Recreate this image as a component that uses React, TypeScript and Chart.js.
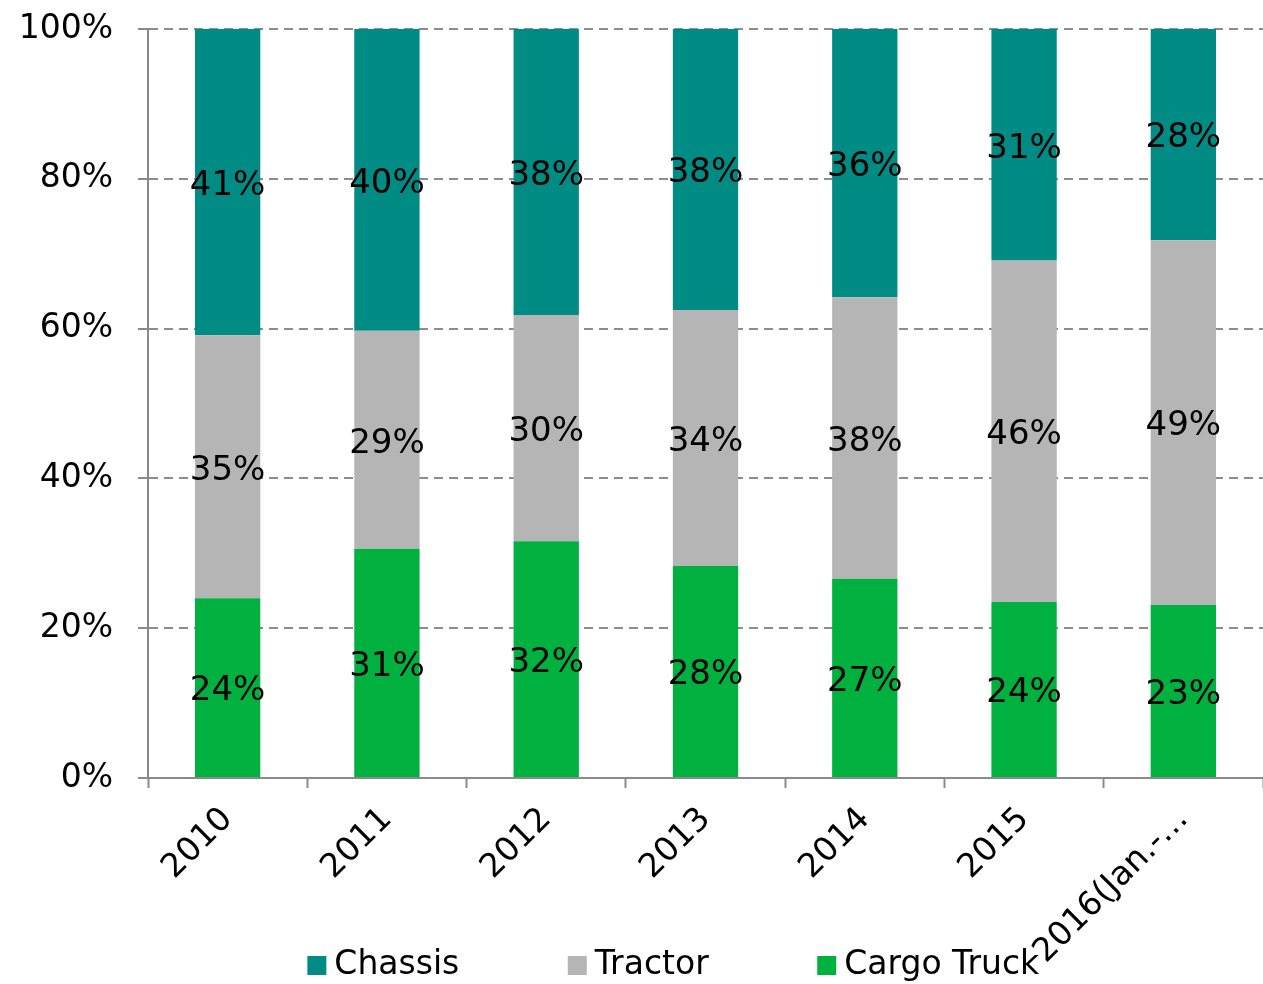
import React, { useEffect, useRef } from 'react';
import { Chart, registerables } from 'chart.js';

Chart.register(...registerables);

const categories = ['2010', '2011', '2012', '2013', '2014', '2015', '2016(Jan.-…'];
const cargoTruck = [24.0, 30.6, 31.6, 28.3, 26.6, 23.5, 23.1];
const tractor = [35.1, 29.1, 30.2, 34.2, 37.6, 45.6, 48.7];
const chassis = [40.9, 40.3, 38.2, 37.5, 35.8, 30.9, 28.2];
const seriesNames = ['Cargo Truck', 'Tractor', 'Chassis'];
const seriesColors = ['#00b140', '#b5b5b5', '#008c84'];

const FONT = "'DejaVu Sans', Verdana, sans-serif";
const AXIS = '#8a8a8a';

const valueLabels = {
  id: 'valueLabels',
  afterDatasetsDraw(chart: any) {
    const ctx = chart.ctx;
    ctx.save();
    ctx.font = `34px ${FONT}`;
    ctx.fillStyle = '#000';
    ctx.textAlign = 'center';
    ctx.textBaseline = 'middle';
    chart.data.datasets.forEach((ds: any, i: number) => {
      const meta = chart.getDatasetMeta(i);
      meta.data.forEach((el: any, j: number) => {
        const { x, y, base } = el.getProps(['x', 'y', 'base'], true);
        ctx.fillText(Math.round(ds.data[j]) + '%', x, (y + base) / 2 + 4);
      });
    });
    ctx.restore();
  },
};

// place the legend like the original and let the rotated x labels run under it
const layoutTweaks = {
  id: 'layoutTweaks',
  afterLayout(chart: any) {
    const lg = chart.legend;
    if (lg) {
      const dx = 46;
      const dy = 8;
      lg.left += dx;
      lg.right += dx;
      lg.top += dy;
      lg.bottom += dy;
    }
    const xs = chart.scales.x;
    if (xs) {
      xs.bottom = chart.height;
      xs.height = xs.bottom - xs.top;
    }
  },
};

export default function App() {
  const ref = useRef<HTMLCanvasElement | null>(null);

  useEffect(() => {
    document.body.style.margin = '0';
    const canvas = ref.current;
    if (!canvas) return;
    Chart.defaults.font.family = FONT;
    Chart.defaults.font.size = 33;
    Chart.defaults.color = '#000';

    const datasets = [cargoTruck, tractor, chassis].map((data, i) => ({
      label: seriesNames[i],
      data,
      backgroundColor: seriesColors[i],
      borderWidth: 0,
      barPercentage: 0.41,
      categoryPercentage: 1,
    }));

    const chart = new Chart(canvas, {
      type: 'bar',
      data: { labels: categories, datasets },
      options: {
        responsive: false,
        animation: false,
        layout: { padding: { top: 29, left: 0, right: 0, bottom: 0 } },
        plugins: {
          tooltip: { enabled: false },
          legend: {
            position: 'bottom',
            reverse: true,
            labels: {
              usePointStyle: true,
              pointStyle: 'rect',
              boxWidth: 2,
              boxHeight: 19,
              padding: 117,
              color: '#000',
              font: { size: 33, family: FONT },
            },
          },
        },
        scales: {
          x: {
            stacked: true,
            afterFit: (scale: any) => {
              scale.height = 46;
            },
            grid: {
              offset: true,
              drawOnChartArea: false,
              drawTicks: true,
              tickLength: 10,
              tickColor: AXIS,
              tickWidth: 2,
              color: AXIS,
            },
            border: { display: true, color: AXIS, width: 2 },
            ticks: {
              autoSkip: false,
              maxRotation: 45,
              minRotation: 45,
              padding: 12,
              color: '#000',
              font: { size: 33, family: FONT },
            },
          },
          y: {
            stacked: true,
            min: 0,
            max: 100,
            afterFit: (scale: any) => {
              scale.width = 148;
              scale.paddingTop = 20;
              scale.paddingBottom = 20;
            },
            grid: {
              color: '#8c8c8c',
              lineWidth: 2,
              drawTicks: true,
              tickLength: 10,
              tickColor: AXIS,
              tickWidth: 2,
              tickBorderDash: [],
            },
            border: { display: true, color: AXIS, width: 2, dash: [9, 6] },
            ticks: {
              stepSize: 20,
              padding: 25,
              color: '#000',
              font: { size: 33, family: FONT },
              callback: (v: any) => v + '%',
            },
          },
        },
      },
      plugins: [valueLabels, layoutTweaks],
    });

    return () => chart.destroy();
  }, []);

  return (
    <canvas
      ref={ref}
      width={1263}
      height={984}
      style={{ display: 'block', width: '1263px', height: '984px' }}
    />
  );
}
